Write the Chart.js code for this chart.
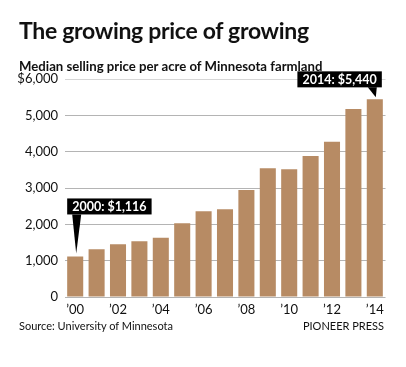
<!DOCTYPE html>
<html>
<head>
<meta charset="utf-8">
<script src="https://cdn.jsdelivr.net/npm/chart.js@4.4.1/dist/chart.umd.min.js"></script>
<style>
  html, body { margin: 0; padding: 0; background: #fff; }
  #wrap { position: relative; width: 406px; height: 367px; overflow: hidden; font-family: Lato, "Open Sans", sans-serif; color: #111; }
  #title { position: absolute; left: 19px; top: 16px; font-size: 23px; font-weight: 700; white-space: nowrap; letter-spacing: -0.3px; }
  #sub { position: absolute; left: 19px; top: 58px; font-size: 13.2px; font-weight: 700; white-space: nowrap; }
  #source { position: absolute; left: 19px; top: 319px; font-size: 11px; white-space: nowrap; }
  #credit { position: absolute; right: 22px; top: 319px; font-size: 11px; white-space: nowrap; }
  canvas { position: absolute; left: 0; top: 0; }
</style>
</head>
<body>
<div id="wrap">
  <canvas id="chart" width="406" height="367"></canvas>
  <div id="title">The growing price of growing</div>
  <div id="sub">Median selling price per acre of Minnesota farmland</div>
  <div id="source">Source: University of Minnesota</div>
  <div id="credit">PIONEER PRESS</div>
</div>
<script>
// ---- data ----
const years = [2000, 2001, 2002, 2003, 2004, 2005, 2006, 2007, 2008, 2009, 2010, 2011, 2012, 2013, 2014];
const prices = [1116, 1313, 1450, 1533, 1633, 2028, 2358, 2413, 2945, 3542, 3514, 3881, 4275, 5175, 5440];
const xTickLabels = ['\u201900', '', '\u201902', '', '\u201904', '', '\u201906', '', '\u201908', '', '\u201910', '', '\u201912', '', '\u201914'];
const yTickLabels = { 0: '0', 1000: '1,000', 2000: '2,000', 3000: '3,000', 4000: '4,000', 5000: '5,000', 6000: '$6,000' };
const callouts = [0, 14]; // indexes with a black label

const BAR = '#b78b64';
const FONT = 'Lato, "Open Sans", sans-serif';

// draws the black callout boxes with their pointers
const calloutPlugin = {
  id: 'callouts',
  afterDatasetsDraw(chart) {
    const ctx = chart.ctx;
    const meta = chart.getDatasetMeta(0);
    ctx.save();
    ctx.font = 'bold 12.5px ' + FONT;
    callouts.forEach(i => {
      const bar = meta.data[i];
      const text = years[i] + ': $' + prices[i].toLocaleString('en-US');
      const w = ctx.measureText(text).width + 10;
      const h = 16;
      const half = bar.width / 2;
      let bx, by, tri;
      if (i === 0) {
        bx = bar.x - half;
        by = bar.y - 58;
        tri = [[bar.x - 3, by + h], [bar.x + 6, by + h], [bar.x + 1, bar.y - 3]];
      } else {
        bx = bar.x + half - 1 - w;
        by = bar.y - 28;
        tri = [[bar.x - 7, by + h], [bar.x + 2, by + h], [bar.x + 1, bar.y - 2]];
      }
      ctx.fillStyle = '#000';
      ctx.fillRect(bx, by, w, h);
      ctx.beginPath();
      ctx.moveTo(tri[0][0], tri[0][1]);
      ctx.lineTo(tri[1][0], tri[1][1]);
      ctx.lineTo(tri[2][0], tri[2][1]);
      ctx.closePath();
      ctx.fill();
      ctx.fillStyle = '#fff';
      ctx.textBaseline = 'middle';
      ctx.fillText(text, bx + 5, by + h / 2 + 0.5);
    });
    ctx.restore();
  }
};

new Chart(document.getElementById('chart'), {
  type: 'bar',
  data: {
    labels: years,
    datasets: [{
      data: prices,
      backgroundColor: BAR,
      barPercentage: 0.75,
      categoryPercentage: 1
    }]
  },
  options: {
    responsive: false,
    animation: false,
    events: [],
    layout: { padding: { left: 0, right: 20.5, top: 79, bottom: 46 } },
    plugins: { legend: { display: false }, tooltip: { enabled: false } },
    scales: {
      x: {
        grid: { display: false, drawTicks: false },
        border: { display: false },
        ticks: {
          autoSkip: false,
          maxRotation: 0,
          padding: 5,
          color: '#111',
          font: { family: FONT, size: 13 },
          callback: (v, i) => xTickLabels[i]
        },
        afterFit: s => { s.height = 24; }
      },
      y: {
        min: 0,
        max: 6000,
        grid: {
          drawTicks: false,
          color: c => c.tick && c.tick.value === 6000 ? '#d6d6d6' : '#b4b4b4',
          lineWidth: 1
        },
        border: { display: false },
        ticks: {
          stepSize: 1000,
          padding: 6.5,
          color: '#111',
          font: { family: FONT, size: 13 },
          callback: v => yTickLabels[v]
        },
        afterFit: s => { s.width = 64.5; }
      }
    }
  },
  plugins: [calloutPlugin]
});
</script>
</body>
</html>
